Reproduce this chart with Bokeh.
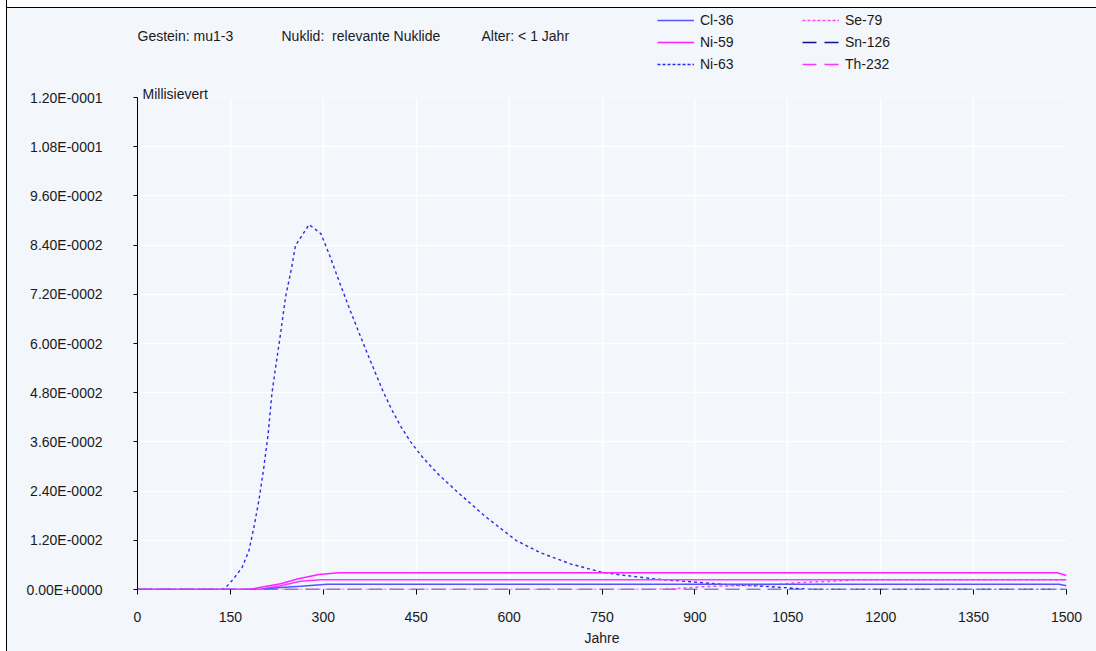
from bokeh.plotting import figure
from bokeh.models import (Range1d, FixedTicker, CustomJSTickFormatter, Legend, LegendItem,
                          Label, BoxAnnotation)
from bokeh.embed import file_html
from bokeh.resources import INLINE

# Dose over time (Millisievert) per nuclide
CL36_YEARS = [0, 200, 231, 263, 306, 1488, 1500]
CL36_DOSE = [0, 0, 0.0005, 0.0008, 0.0013, 0.0013, 0.0009]

NI59_YEARS = [0, 180, 231, 260, 293, 325, 1485, 1500]
NI59_DOSE = [0, 0, 0.0014, 0.0026, 0.00365, 0.00407, 0.00407, 0.0034]

NI63_YEARS = [0, 137, 142, 155, 169, 180, 188, 196, 204, 211, 217, 223, 231, 239, 249, 255,
              277, 296, 309, 325, 341, 358, 374, 387, 396, 410, 425, 441, 460, 485, 515,
              560, 611, 650, 700, 750, 778, 840, 900, 950, 1000, 1040, 1090, 1500]
NI63_DOSE = [0, 0, 0.0004, 0.0026, 0.0054, 0.0095, 0.0152, 0.0217, 0.0298, 0.038, 0.0477,
             0.0542, 0.0624, 0.0713, 0.0786, 0.0839, 0.089, 0.0868, 0.082, 0.0754, 0.069,
             0.0625, 0.0565, 0.0518, 0.0485, 0.044, 0.0398, 0.036, 0.0323, 0.0282, 0.024,
             0.018, 0.012, 0.009, 0.0062, 0.0042, 0.0036, 0.0025, 0.0018, 0.0012, 0.0009,
             0.0005, 0, 0]

SE79_YEARS = [0, 830, 870, 900, 930, 990, 1040, 1080, 1120, 1160, 1500]
SE79_DOSE = [0, 0, 0.0002, 0.00056, 0.0008, 0.001, 0.0013, 0.0018, 0.002, 0.00237, 0.00237]

SN126_YEARS = [0, 1500]
SN126_DOSE = [0, 0]

TH232_YEARS = [0, 195, 231, 263, 296, 1500]
TH232_DOSE = [0, 0, 0.0009, 0.002, 0.00237, 0.00237]

X_TICKS = [0, 150, 300, 450, 600, 750, 900, 1050, 1200, 1350, 1500]
Y_TICKS = [0, 0.012, 0.024, 0.036, 0.048, 0.06, 0.072, 0.084, 0.096, 0.108, 0.12]
Y_MAX = 0.12

FONT = "Liberation Sans"
BG = "#f3f6fb"
TXT = "#1a1a1a"

TOP = 8                           # window frame edge above the plot frame
PLOT_H = 492                      # pixel height of the 0..Y_MAX band
FRAME_H = 589 - TOP               # plot frame reaches up to the window edge
Y_TOP = Y_MAX * FRAME_H / PLOT_H  # headroom above Y_MAX holds header and legend

p = figure(width=1096, height=651, output_backend="svg", toolbar_location=None,
           x_range=Range1d(0, 1500), y_range=Range1d(0, Y_TOP),
           min_border_left=137, min_border_right=30, min_border_top=TOP,
           min_border_bottom=62,
           background_fill_color=BG, border_fill_alpha=0)
p.outline_line_color = None
# window frame painted behind the transparent border area: white margin, dark edge, panel
p.styles = {"background": (
    "linear-gradient(to right, #ffffff 0 6px, #000000 6px 7px, transparent 7px), "
    "linear-gradient(to bottom, #ffffff 0 7px, #000000 7px 8px, " + BG + " 8px)")}

# grid
p.xgrid.ticker = FixedTicker(ticks=X_TICKS)
p.ygrid.ticker = FixedTicker(ticks=Y_TICKS)
for g in (p.xgrid, p.ygrid):
    g.grid_line_color = "white"
    g.grid_line_width = 1.5

# header band above the plot area
p.add_layout(BoxAnnotation(bottom=Y_MAX, fill_color=BG, fill_alpha=1, line_color=None,
                           level="glyph"))

# x axis
xa = p.xaxis[0]
xa.ticker = FixedTicker(ticks=X_TICKS)
xa.axis_line_color = None
xa.major_tick_line_color = "black"
xa.major_tick_out = 5
xa.major_tick_in = 0
xa.minor_tick_line_color = None
xa.major_label_standoff = 17
xa.major_label_text_font = FONT
xa.major_label_text_font_size = "14px"
xa.major_label_text_color = TXT
xa.axis_label = "Jahre"
xa.axis_label_text_font = FONT
xa.axis_label_text_font_size = "14px"
xa.axis_label_text_font_style = "normal"
xa.axis_label_text_color = TXT
xa.axis_label_standoff = 5

# y axis
ya = p.yaxis[0]
ya.ticker = FixedTicker(ticks=Y_TICKS)
ya.bounds = (0, Y_MAX)
ya.axis_line_color = "black"
ya.major_tick_line_color = "black"
ya.major_tick_out = 4
ya.major_tick_in = 0
ya.minor_tick_line_color = None
ya.major_label_standoff = 31
ya.major_label_text_font = FONT
ya.major_label_text_font_size = "14px"
ya.major_label_text_color = TXT
ya.formatter = CustomJSTickFormatter(code="""
if (Math.abs(tick) < 1e-12) return "0.00E+0000";
const e = Math.floor(Math.log10(Math.abs(tick)) + 1e-9);
const m = tick / Math.pow(10, e);
const s = e < 0 ? "-" : "+";
return m.toFixed(2) + "E" + s + String(Math.abs(e)).padStart(4, "0");
""")

# series
r_sn126 = p.line(SN126_YEARS, SN126_DOSE, line_color="#10108a", line_width=1.5, line_dash="14 7")
r_ni63 = p.line(NI63_YEARS, NI63_DOSE, line_color="#2a2ae8", line_width=1.4, line_dash="3 3")
r_se79 = p.line(SE79_YEARS, SE79_DOSE, line_color="#ff44ff", line_width=1.5, line_dash="3 3")
r_th232 = p.line(TH232_YEARS, TH232_DOSE, line_color="#ff33ff", line_width=1.5)
r_cl36 = p.line(CL36_YEARS, CL36_DOSE, line_color="#5555ff", line_width=1.5)
r_ni59 = p.line(NI59_YEARS, NI59_DOSE, line_color="#ff22ff", line_width=1.5)

# legend swatches in the series' nominal dash styles (placed off-range, never visible)
OFF_X, OFF_Y = [-50, -40], [0, 0]
leg_cl36 = p.line(OFF_X, OFF_Y, line_color="#5555ff", line_width=1.5)
leg_ni59 = p.line(OFF_X, OFF_Y, line_color="#ff22ff", line_width=1.5)
leg_ni63 = p.line(OFF_X, OFF_Y, line_color="#2a2ae8", line_width=1.4, line_dash="3 2")
leg_se79 = p.line(OFF_X, OFF_Y, line_color="#ff44ff", line_width=1.5, line_dash="3 2")
leg_sn126 = p.line(OFF_X, OFF_Y, line_color="#10108a", line_width=1.5, line_dash="14 8")
leg_th232 = p.line(OFF_X, OFF_Y, line_color="#ff33ff", line_width=1.5, line_dash="14 8")


def make_legend(items, loc):
    lg = Legend(items=[LegendItem(label=n, renderers=[r]) for n, r in items],
                location=loc, orientation="vertical",
                border_line_color=None, background_fill_alpha=0,
                padding=0, margin=0, spacing=4,
                glyph_width=37, glyph_height=18, label_height=18, label_standoff=6,
                label_text_font=FONT, label_text_font_size="14px", label_text_color=TXT)
    p.add_layout(lg)


make_legend([("Cl-36", leg_cl36), ("Ni-59", leg_ni59), ("Ni-63", leg_ni63)], (520, 516))
make_legend([("Se-79", leg_se79), ("Sn-126", leg_sn126), ("Th-232", leg_th232)], (665, 516))

# header texts (screen units: from plot frame's left / bottom)
for txt, x in [("Gestein: mu1-3", 0), ("Nuklid:\u00a0 relevante Nuklide", 144),
               ("Alter: < 1 Jahr", 344)]:
    p.add_layout(Label(x=x, y=554, x_units="screen", y_units="screen", text=txt,
                       text_font=FONT, text_font_size="14px", text_color=TXT,
                       text_baseline="middle", text_align="left", level="overlay"))

p.add_layout(Label(x=5, y=496, x_units="screen", y_units="screen", text="Millisievert",
                   text_font=FONT, text_font_size="14px", text_color=TXT,
                   text_baseline="middle", text_align="left", level="overlay"))

open("out.html", "w").write(file_html(p, INLINE))
